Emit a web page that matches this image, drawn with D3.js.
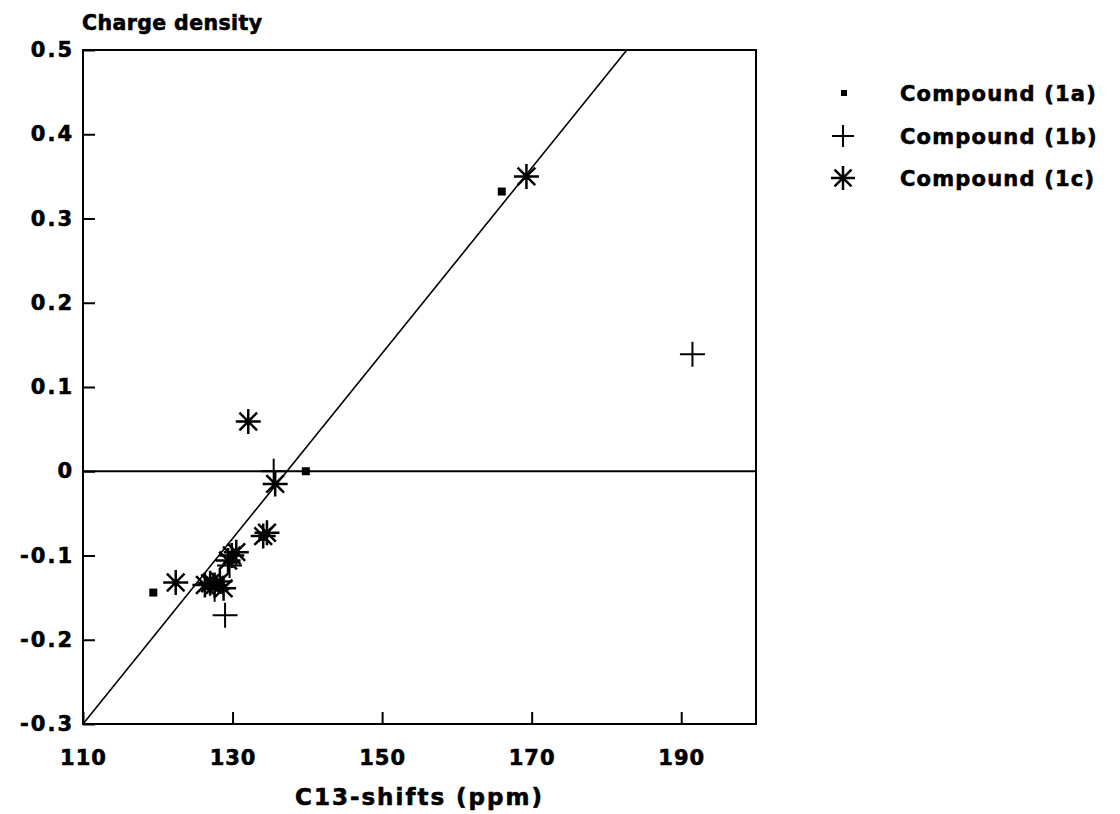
<!DOCTYPE html>
<html>
<head>
	<meta charset="utf-8">
	<title>Charge density vs C13-shifts</title>
	<style>
		body { margin: 0; background: #fff; }
		text { font-family: "DejaVu Sans", sans-serif; font-weight: bold; fill: #000; stroke: #000; stroke-width: 0.6px; }
	</style>
</head>
<body>
<svg width="1120" height="814"></svg>

<script src="https://d3js.org/d3.v7.min.js"></script>
<script>
	// ticks
	var xTicks = [110, 130, 150, 170, 190];
	var yTicks = [0.5, 0.4, 0.3, 0.2, 0.1, 0, -0.1, -0.2, -0.3];
	var yTickLabels = ['0.5', '0.4', '0.3', '0.2', '0.1', '0', '-0.1', '-0.2', '-0.3'];

	// compound (1a) - squares
	var shifts1a = [166.0, 139.8, 134.0, 119.4, 130.0, 128.2];
	var charge1a = [0.332, 0.0, -0.078, -0.144, -0.105, -0.138];
	// compound (1b) - plus
	var shifts1b = [191.5, 135.5, 129.0, 129.6, 127.6];
	var charge1b = [0.139, 0.0, -0.171, -0.112, -0.140];
	// compound (1c) - asterisks
	var shifts1c = [169.3, 132.1, 135.7, 134.6, 134.1, 130.5, 129.9, 129.4, 128.8, 128.3, 127.6, 127.0, 126.3, 122.4];
	var charge1c = [0.350, 0.059, -0.015, -0.073, -0.077, -0.096, -0.100, -0.106, -0.139, -0.131, -0.135, -0.133, -0.135, -0.132];

	var legendLabels = ['Compound (1a)', 'Compound (1b)', 'Compound (1c)'];

	// fitted line: charge = slope * shift + intercept
	var slope = 0.011;
	var intercept = -1.51;

	// (not "top": that name is taken by window.top)
	var mLeft = 83, mRight = 756, mTop = 50, mBottom = 724;

	var svg = d3.select('svg');

	var x = d3.scaleLinear().domain([110, 200]).range([mLeft, mRight]);
	var y = d3.scaleLinear().domain([-0.3, 0.5]).range([mBottom, mTop]);

	var plot = svg.append('g');

	// zero line
	plot.append('line')
		.attr('x1', x(110)).attr('x2', x(200))
		.attr('y1', y(0)).attr('y2', y(0))
		.attr('stroke', '#000').attr('stroke-width', 2);

	// regression line, clipped to the frame
	var xEnd = (0.5 - intercept) / slope;
	plot.append('line')
		.attr('x1', x(110)).attr('y1', y(slope * 110 + intercept))
		.attr('x2', x(xEnd)).attr('y2', y(slope * xEnd + intercept))
		.attr('stroke', '#000').attr('stroke-width', 1.6);

	// axes, ticks pointing inward
	var xAxis = d3.axisBottom(x).tickValues(xTicks)
		.tickSizeInner(-12).tickSizeOuter(0).tickPadding(26)
		.tickFormat(d3.format('d'));
	var yAxis = d3.axisLeft(y).tickValues(yTicks)
		.tickSizeInner(-12).tickSizeOuter(0).tickPadding(11)
		.tickFormat((d, i) => yTickLabels[i]);

	var gx = svg.append('g').attr('transform', `translate(0,${mBottom})`).call(xAxis);
	var gy = svg.append('g').attr('transform', `translate(${mLeft},0)`).call(yAxis);

	[gx, gy].forEach(g => {
		g.select('.domain').remove();
		g.selectAll('line').attr('stroke', '#000').attr('stroke-width', 2);
		g.selectAll('text')
			.attr('font-family', '"DejaVu Sans", sans-serif')
			.attr('font-weight', 'bold')
			.attr('font-size', 21)
			.attr('fill', '#000');
	});
	gx.selectAll('text').attr('letter-spacing', 1);
	gy.selectAll('text').attr('letter-spacing', 2).attr('dx', 2);

	// frame
	svg.append('rect')
		.attr('x', mLeft).attr('y', mTop)
		.attr('width', mRight - mLeft).attr('height', mBottom - mTop)
		.attr('fill', 'none').attr('stroke', '#000').attr('stroke-width', 2);

	// titles
	svg.append('text')
		.attr('x', 82).attr('y', 30)
		.attr('font-size', 20.5).attr('letter-spacing', 0.4)
		.text('Charge density');
	svg.append('text')
		.attr('x', (mLeft + mRight) / 2).attr('y', 805)
		.attr('text-anchor', 'middle')
		.attr('font-size', 23).attr('letter-spacing', 2)
		.text('C13-shifts (ppm)');

	// markers
	function square(g, cx, cy, s) {
		g.append('rect')
			.attr('x', cx - s / 2).attr('y', cy - s / 2)
			.attr('width', s).attr('height', s)
			.attr('fill', '#000');
	}
	function plus(g, cx, cy, r) {
		g.append('path')
			.attr('d', `M${cx - r},${cy}H${cx + r}M${cx},${cy - r}V${cy + r}`)
			.attr('stroke', '#000').attr('stroke-width', 2).attr('fill', 'none');
	}
	function star(g, cx, cy, r) {
		var d = '';
		for (var k = 0; k < 4; k++) {
			var a = k * Math.PI / 4;
			var dx = r * Math.cos(a), dy = r * Math.sin(a);
			d += `M${cx - dx},${cy - dy}L${cx + dx},${cy + dy}`;
		}
		g.append('path')
			.attr('d', d)
			.attr('stroke', '#000').attr('stroke-width', 2.5).attr('fill', 'none');
	}

	var marks = svg.append('g');
	shifts1a.forEach((s, i) => square(marks, x(s), y(charge1a[i]), 8));
	shifts1b.forEach((s, i) => plus(marks, x(s), y(charge1b[i]), 12.5));
	shifts1c.forEach((s, i) => star(marks, x(s), y(charge1c[i]), 12.5));

	// legend
	var legend = svg.append('g');
	var legendY = [93, 136, 178];
	square(legend, 844, legendY[0], 6);
	plus(legend, 843, legendY[1], 11);
	star(legend, 843, legendY[2], 12);
	legendLabels.forEach((label, i) => {
		legend.append('text')
			.attr('x', 900).attr('y', legendY[i])
			.attr('dy', '0.36em')
			.attr('font-size', 21).attr('letter-spacing', 1.2)
			.text(label);
	});
</script>
</body>
</html>
